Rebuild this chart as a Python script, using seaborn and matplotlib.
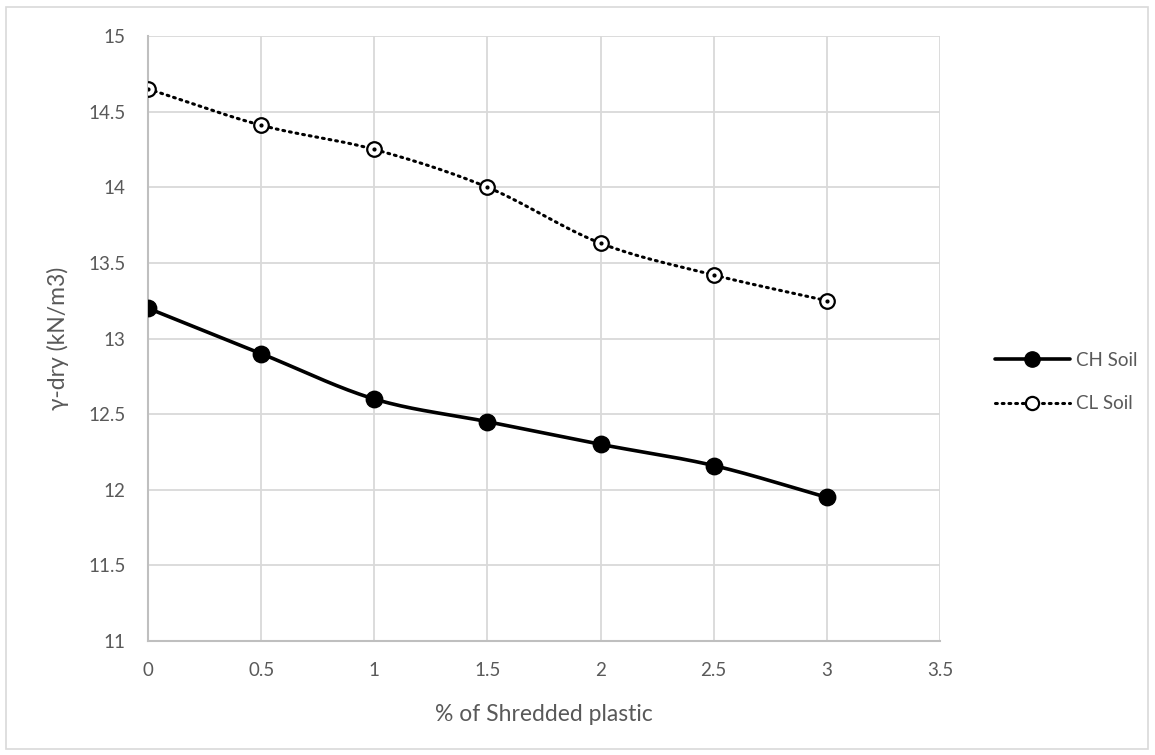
import numpy as np
import pandas as pd
import matplotlib
matplotlib.use("Agg")
import matplotlib.pyplot as plt
from matplotlib.lines import Line2D
from matplotlib.patches import Rectangle
import seaborn as sns

# Data
plastic_pct = [0, 0.5, 1, 1.5, 2, 2.5, 3]
ch_soil = [13.2, 12.9, 12.6, 12.45, 12.3, 12.16, 11.95]
cl_soil = [14.65, 14.41, 14.25, 14.0, 13.63, 13.42, 13.25]
series_names = ["CH Soil", "CL Soil"]
x_ticks = [0, 0.5, 1, 1.5, 2, 2.5, 3, 3.5]
y_ticks = [11, 11.5, 12, 12.5, 13, 13.5, 14, 14.5, 15]

sns.set_theme(style="white")
plt.rcParams["font.family"] = ["Lato", "DejaVu Sans"]

TEXT = "#595959"
GRID = "#d9d9d9"


def smooth(x, y, n=30):
    """Catmull-Rom style smoothed path through the points (spreadsheet-like smoothing)."""
    x = np.asarray(x, float)
    y = np.asarray(y, float)
    px = np.concatenate([[2 * x[0] - x[1]], x, [2 * x[-1] - x[-2]]])
    py = np.concatenate([[2 * y[0] - y[1]], y, [2 * y[-1] - y[-2]]])
    xs, ys = [], []
    t = np.linspace(0, 1, n, endpoint=False)
    for i in range(1, len(px) - 2):
        # cubic Bezier with tangents scaled by 1/6
        p0x, p0y = px[i], py[i]
        p3x, p3y = px[i + 1], py[i + 1]
        c1x = p0x + (px[i + 1] - px[i - 1]) / 6
        c1y = p0y + (py[i + 1] - py[i - 1]) / 6
        c2x = p3x - (px[i + 2] - px[i]) / 6
        c2y = p3y - (py[i + 2] - py[i]) / 6
        b = [(1 - t) ** 3, 3 * (1 - t) ** 2 * t, 3 * (1 - t) * t ** 2, t ** 3]
        xs.append(b[0] * p0x + b[1] * c1x + b[2] * c2x + b[3] * p3x)
        ys.append(b[0] * p0y + b[1] * c1y + b[2] * c2y + b[3] * p3y)
    xs.append([x[-1]])
    ys.append([y[-1]])
    return np.concatenate(xs), np.concatenate(ys)


fig = plt.figure(figsize=(11.55, 7.55), dpi=100)
fig.patches.append(Rectangle((6 / 1155, 6 / 755), 1 - 13 / 1155, 1 - 13 / 755,
                             transform=fig.transFigure, fill=False,
                             edgecolor="#d9d9d9", linewidth=1.2))
ax = fig.add_axes([148 / 1155, 1 - 641 / 755, (940 - 148) / 1155, (641 - 36) / 755])

points = pd.DataFrame({
    "x": plastic_pct * 2,
    "y": ch_soil + cl_soil,
    "series": [series_names[0]] * len(ch_soil) + [series_names[1]] * len(cl_soil),
})

curves = []
for name, vals in zip(series_names, [ch_soil, cl_soil]):
    sx, sy = smooth(plastic_pct, vals)
    curves.append(pd.DataFrame({"x": sx, "y": sy, "series": name}))
curves = pd.concat(curves, ignore_index=True)

sns.lineplot(data=curves[curves.series == "CH Soil"], x="x", y="y", ax=ax,
             color="black", linewidth=2.6, sort=False, estimator=None)
sns.lineplot(data=curves[curves.series == "CL Soil"], x="x", y="y", ax=ax,
             color="black", linewidth=2.2, linestyle=(0, (0.6, 1.6)),
             dash_capstyle="round", sort=False, estimator=None)

ch_pts = points[points.series == "CH Soil"]
cl_pts = points[points.series == "CL Soil"]
sns.scatterplot(data=ch_pts, x="x", y="y", ax=ax, color="black", s=140,
                edgecolor="black", linewidth=1, zorder=5)
sns.scatterplot(data=cl_pts, x="x", y="y", ax=ax, color="white", s=110,
                edgecolor="black", linewidth=1.6, zorder=5)
ax.scatter(cl_pts["x"], cl_pts["y"], s=4, color="black", zorder=6)

ax.set_xlim(0, 3.5)
ax.set_ylim(11, 15)
ax.set_xticks(x_ticks)
ax.set_yticks(y_ticks)
ax.set_xticklabels([f"{v:g}" for v in x_ticks])
ax.set_yticklabels([f"{v:g}" for v in y_ticks])
ax.grid(True, color=GRID, linewidth=1.3)
ax.set_axisbelow(True)
for side in ["top", "right"]:
    ax.spines[side].set_visible(False)
for side in ["left", "bottom"]:
    ax.spines[side].set_color("#bfbfbf")
    ax.spines[side].set_linewidth(1.5)
ax.tick_params(axis="both", length=0, colors=TEXT, labelsize=13.5)
ax.tick_params(axis="x", pad=15)
ax.tick_params(axis="y", pad=16)

ax.set_xlabel("% of Shredded plastic", color=TEXT, fontsize=16.5, labelpad=18)
ax.set_ylabel("γ-dry (kN/m3)", color=TEXT, fontsize=16.5, labelpad=14)

handles = [
    Line2D([], [], color="black", linewidth=2.6, marker="o", markersize=11,
           markerfacecolor="black"),
    Line2D([], [], color="black", linewidth=2.2, linestyle=(0, (0.6, 1.6)),
           marker="o", markersize=9.5, markerfacecolor="white",
           markeredgewidth=1.6, dash_capstyle="round"),
]
leg = fig.legend(handles, series_names, loc="center left",
                 bbox_to_anchor=(978 / 1155, 1 - 382 / 755), frameon=False,
                 fontsize=13.5, handlelength=4.0, labelspacing=1.4,
                 handletextpad=0.3)
for t in leg.get_texts():
    t.set_color(TEXT)

fig.savefig("out.png", dpi=100)
